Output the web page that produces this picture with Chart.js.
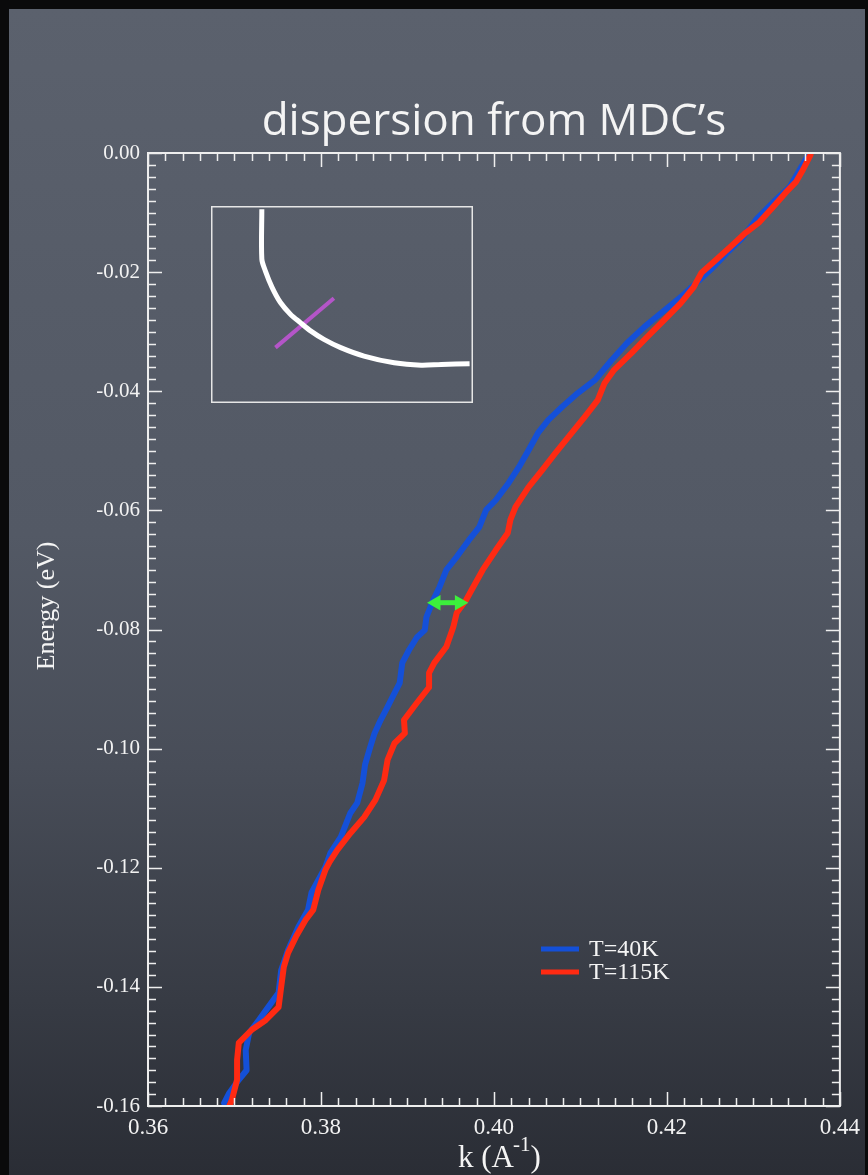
<!DOCTYPE html>
<html>
<head>
<meta charset="utf-8">
<script src="https://cdn.jsdelivr.net/npm/chart.js@4.4.1/dist/chart.umd.min.js"></script>
<style>
    html, body { margin: 0; padding: 0; background: #0a0a0b; }
    #board {
        position: absolute; left: 9px; top: 9px; width: 856px; height: 1166px;
        background: linear-gradient(to bottom, #5b616d 0%, #565c68 25%, #535965 45%, #484d58 65%, #373b44 85%, #2a2d35 100%);
    }
    #main { position: absolute; left: 0; top: 0; }
    #inset { position: absolute; left: 211px; top: 206px; }
</style>
</head>
<body>
<div id="board"></div>
<canvas id="main" width="868" height="1175"></canvas>
<canvas id="inset" width="262" height="197"></canvas>
<script>
// --- Data ---
const TITLE = 'dispersion from MDC\u2019s';
const SERIES_LABELS = ['T=40K', 'T=115K'];

// T=40K (blue)
const kBlue = [0.4362, 0.4342, 0.4322, 0.4303, 0.4288, 0.4269, 0.4254, 0.4234, 0.4216, 0.4193,
    0.4174, 0.4154, 0.4136, 0.4117, 0.4097, 0.4079, 0.4063, 0.4051, 0.4040, 0.4029,
    0.4017, 0.4002, 0.3991, 0.3983, 0.3971, 0.3957, 0.3945, 0.3937, 0.3930, 0.3922,
    0.3920, 0.3911, 0.3902, 0.3894, 0.3891, 0.3885, 0.3877, 0.3869, 0.3862, 0.3857,
    0.3851, 0.3848, 0.3842, 0.3834, 0.3823, 0.3811, 0.3805, 0.3789, 0.3785, 0.3774,
    0.3762, 0.3754, 0.3751, 0.3739, 0.3728, 0.3717, 0.3713, 0.3714, 0.3705, 0.3694, 0.3688];
const eBlue = [-0.0007, -0.0057, -0.0084, -0.0112, -0.0141, -0.0168, -0.0191, -0.0218, -0.0242, -0.0269,
    -0.0292, -0.0319, -0.0348, -0.0381, -0.0403, -0.0426, -0.0448, -0.0470, -0.0499, -0.0527,
    -0.0554, -0.0583, -0.0599, -0.0628, -0.0650, -0.0678, -0.0700, -0.0729, -0.0750, -0.0779,
    -0.0801, -0.0813, -0.0834, -0.0856, -0.0890, -0.0907, -0.0930, -0.0952, -0.0974, -0.0997,
    -0.1027, -0.1058, -0.1091, -0.1108, -0.1148, -0.1175, -0.1199, -0.1242, -0.1271, -0.1299,
    -0.1338, -0.1372, -0.1410, -0.1434, -0.1456, -0.1477, -0.1506, -0.1540, -0.1556, -0.1578, -0.1595];

// T=115K (red)
const kRed = [0.4366, 0.4357, 0.4349, 0.4337, 0.4322, 0.4307, 0.4291, 0.4273, 0.4254, 0.4240,
    0.4231, 0.4216, 0.4197, 0.4177, 0.4159, 0.4139, 0.4128, 0.4120, 0.4105, 0.4086,
    0.4071, 0.4056, 0.4040, 0.4025, 0.4019, 0.4016, 0.4002, 0.3987, 0.3974, 0.3968,
    0.3957, 0.3953, 0.3945, 0.3931, 0.3925, 0.3925, 0.3911, 0.3896, 0.3897, 0.3885,
    0.3877, 0.3873, 0.3863, 0.3850, 0.3834, 0.3819, 0.3810, 0.3805, 0.3797, 0.3791,
    0.3782, 0.3771, 0.3762, 0.3757, 0.3754, 0.3751, 0.3736, 0.3720, 0.3705, 0.3703,
    0.3703, 0.3697, 0.3694];
const eRed = [-0.0003, -0.0029, -0.0049, -0.0067, -0.0092, -0.0116, -0.0134, -0.0158, -0.0183, -0.0201,
    -0.0225, -0.0252, -0.0280, -0.0309, -0.0336, -0.0364, -0.0386, -0.0415, -0.0443, -0.0477,
    -0.0504, -0.0532, -0.0561, -0.0594, -0.0616, -0.0638, -0.0667, -0.0700, -0.0734, -0.0750,
    -0.0772, -0.0796, -0.0829, -0.0856, -0.0873, -0.0897, -0.0923, -0.0952, -0.0974, -0.0991,
    -0.1019, -0.1053, -0.1086, -0.1115, -0.1142, -0.1170, -0.1190, -0.1204, -0.1237, -0.1271,
    -0.1288, -0.1316, -0.1343, -0.1367, -0.1400, -0.1434, -0.1456, -0.1472, -0.1494, -0.1523,
    -0.1556, -0.1590, -0.1600];

// green double arrow (point centres of the two heads)
const kArrow = [0.3933, 0.3960];
const eArrow = [-0.0755, -0.0755];

// axis ranges and tick labels
const K_MIN = 0.36, K_MAX = 0.44;
const E_MIN = -0.16, E_MAX = 0.00;
const K_TICKS = ['0.36', '0.38', '0.40', '0.42', '0.44'];
const E_TICKS = ['-0.16', '-0.14', '-0.12', '-0.10', '-0.08', '-0.06', '-0.04', '-0.02', '0.00'];

// inset sketch (normalised 0..1 box)
const insetCurveX = [0.194, 0.194, 0.207, 0.233, 0.265, 0.303, 0.341, 0.380, 0.431, 0.495, 0.584, 0.699, 0.802, 0.879, 0.987];
const insetCurveY = [0.983, 0.731, 0.672, 0.587, 0.510, 0.451, 0.408, 0.366, 0.323, 0.281, 0.238, 0.204, 0.192, 0.196, 0.199];
const insetCutX = [0.246, 0.469];
const insetCutY = [0.281, 0.532];

// --- Styles ---
const BLUE = '#1450d8';
const RED = '#ff2a12';
const GREEN = '#3cf03c';
const CHALK = '#eeeeee';
const SERIF = "'Liberation Serif', 'Times New Roman', serif";

const zip = (xs, ys) => xs.map((x, i) => ({ x: x, y: ys[i] }));
const isMajor = (v, step) => Math.abs(v / step - Math.round(v / step)) < 1e-6;

// frame + inward tick marks on all four sides, plus titles and legend
const decorPlugin = {
    id: 'decor',
    afterDraw(chart) {
        const ctx = chart.ctx;
        const a = chart.chartArea;
        const xs = chart.scales.x, ys = chart.scales.y;
        ctx.save();
        ctx.strokeStyle = CHALK;
        ctx.lineWidth = 2;
        ctx.strokeRect(a.left, a.top, a.right - a.left, a.bottom - a.top);

        ctx.lineWidth = 1.5;
        ctx.beginPath();
        xs.ticks.forEach(t => {
            const px = Math.round(xs.getPixelForValue(t.value)) + 0.5;
            const len = isMajor(t.value, 0.02) ? 14 : 8;
            ctx.moveTo(px, a.bottom); ctx.lineTo(px, a.bottom - len);
            ctx.moveTo(px, a.top); ctx.lineTo(px, a.top + len);
        });
        ys.ticks.forEach(t => {
            const py = Math.round(ys.getPixelForValue(t.value)) + 0.5;
            const len = isMajor(t.value, 0.02) ? 14 : 8;
            ctx.moveTo(a.left, py); ctx.lineTo(a.left + len, py);
            ctx.moveTo(a.right, py); ctx.lineTo(a.right - len, py);
        });
        ctx.stroke();

        // title
        ctx.fillStyle = '#f4f4f4';
        ctx.font = "44px 'Open Sans', sans-serif";
        ctx.textAlign = 'center';
        ctx.textBaseline = 'alphabetic';
        ctx.fillText(TITLE, (a.left + a.right) / 2, 135);

        // y axis title
        ctx.font = '26px ' + SERIF;
        ctx.save();
        ctx.translate(47, 606);
        ctx.rotate(-Math.PI / 2);
        ctx.textBaseline = 'middle';
        ctx.fillText('Energy (eV)', 0, 0);
        ctx.restore();

        // x axis title with superscript
        const cx = (a.left + a.right) / 2 + 6;
        const base = 1167;
        ctx.textAlign = 'left';
        const p1 = 'k (A', p3 = ')';
        ctx.font = '21px ' + SERIF;
        const w2 = ctx.measureText('-1').width;
        ctx.font = '31px ' + SERIF;
        const w1 = ctx.measureText(p1).width, w3 = ctx.measureText(p3).width;
        const x0 = cx - (w1 + w2 + w3) / 2;
        ctx.fillText(p1, x0, base);
        ctx.font = '21px ' + SERIF;
        ctx.fillText('-1', x0 + w1 - 1, base - 16);
        ctx.font = '31px ' + SERIF;
        ctx.fillText(p3, x0 + w1 + w2 - 1, base);

        // legend
        const items = [chart.data.datasets[0], chart.data.datasets[1]];
        ctx.font = '24px ' + SERIF;
        ctx.textBaseline = 'middle';
        items.forEach((ds, i) => {
            const y = 949 + i * 23;
            ctx.strokeStyle = ds.borderColor;
            ctx.lineWidth = 5;
            ctx.beginPath();
            ctx.moveTo(541, y); ctx.lineTo(579, y);
            ctx.stroke();
            ctx.fillStyle = '#f4f4f4';
            ctx.fillText(ds.label, 589, y + 1);
        });
        ctx.restore();
    }
};

new Chart(document.getElementById('main'), {
    type: 'scatter',
    data: {
        datasets: [
            {
                label: SERIES_LABELS[0], data: zip(kBlue, eBlue), showLine: true,
                borderColor: BLUE, borderWidth: 6, pointRadius: 0, order: 2,
                borderJoinStyle: 'round', borderCapStyle: 'round'
            },
            {
                label: SERIES_LABELS[1], data: zip(kRed, eRed), showLine: true,
                borderColor: RED, borderWidth: 6, pointRadius: 0, order: 1,
                borderJoinStyle: 'round', borderCapStyle: 'round'
            },
            {
                label: 'arrow', data: zip(kArrow, eArrow), showLine: true,
                borderColor: GREEN, borderWidth: 5, backgroundColor: GREEN,
                pointStyle: 'triangle', pointRadius: 9, pointBorderWidth: 0,
                pointBackgroundColor: GREEN, pointRotation: [270, 90], order: 0
            }
        ]
    },
    options: {
        responsive: false,
        animation: false,
        events: [],
        layout: { padding: { left: 0, top: 153, right: 20, bottom: 0 } },
        plugins: { legend: { display: false }, tooltip: { enabled: false } },
        scales: {
            x: {
                type: 'linear', position: 'bottom', min: K_MIN, max: K_MAX,
                grid: { display: false, drawTicks: false },
                border: { display: false },
                ticks: {
                    stepSize: 0.002, autoSkip: false, maxRotation: 0, padding: 8,
                    color: '#f2f2f2', font: { family: SERIF, size: 23 },
                    callback: v => {
                        if (!isMajor(v, 0.02)) return '';
                        return K_TICKS.find(s => Math.abs(parseFloat(s) - v) < 1e-6) || '';
                    }
                },
                afterFit: s => { s.height = 69; }
            },
            y: {
                type: 'linear', position: 'left', min: E_MIN, max: E_MAX,
                grid: { display: false, drawTicks: false },
                border: { display: false },
                ticks: {
                    stepSize: 0.002, autoSkip: false, padding: 8,
                    color: '#f2f2f2', font: { family: SERIF, size: 21 },
                    callback: v => {
                        if (!isMajor(v, 0.02)) return '';
                        return E_TICKS.find(s => Math.abs(parseFloat(s) - v) < 1e-6) || '';
                    }
                },
                afterFit: s => { s.width = 148; }
            }
        }
    },
    plugins: [decorPlugin]
});

// inset sketch
const insetFrame = {
    id: 'insetFrame',
    afterDraw(chart) {
        const ctx = chart.ctx;
        ctx.save();
        ctx.strokeStyle = '#e6e6e6';
        ctx.lineWidth = 1.5;
        ctx.strokeRect(0.75, 0.75, chart.width - 1.5, chart.height - 1.5);
        ctx.restore();
    }
};

new Chart(document.getElementById('inset'), {
    type: 'scatter',
    data: {
        datasets: [
            {
                data: zip(insetCutX, insetCutY), showLine: true, borderColor: '#b455c8',
                borderWidth: 4, pointRadius: 0, order: 2, clip: false
            },
            {
                data: zip(insetCurveX, insetCurveY), showLine: true, borderColor: '#ffffff',
                borderWidth: 5, pointRadius: 0, tension: 0.3, order: 1, clip: false
            }
        ]
    },
    options: {
        responsive: false,
        animation: false,
        events: [],
        layout: { padding: 0 },
        plugins: { legend: { display: false }, tooltip: { enabled: false } },
        scales: {
            x: { type: 'linear', min: 0, max: 1, display: false },
            y: { type: 'linear', min: 0, max: 1, display: false }
        }
    },
    plugins: [insetFrame]
});
</script>
</body>
</html>
